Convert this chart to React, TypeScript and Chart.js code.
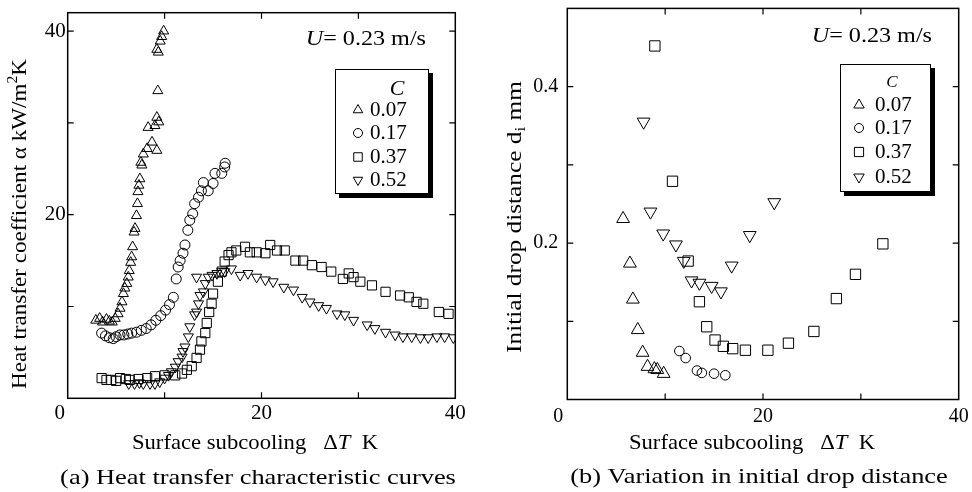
import React, { useEffect, useRef } from 'react';
import { Chart, registerables } from 'chart.js';

Chart.register(...registerables);

const SERIF = '"Liberation Serif", "DejaVu Serif", serif';

// ---------- shared axis ticks ----------
const SERIES_LABELS = ['0.07', '0.17', '0.37', '0.52'];
const X_TICKS = [0, 10, 20, 30, 40];
const X_TICK_LABELS = ['0', '', '20', '', '40'];
const A_Y_TICKS = [0, 10, 20, 30, 40];
const A_Y_TICK_LABELS = ['', '', '20', '', '40'];
const B_Y_TICKS = [0, 0.1, 0.2, 0.3, 0.4];
const B_Y_TICK_LABELS = ['', '', '0.2', '', '0.4'];

// ---------- (a) heat transfer coefficient ----------
const A_C007_X = [2.9, 3.3, 3.6, 4.0, 4.3, 4.6, 4.9, 5.2, 5.4, 5.6, 5.75, 5.9, 6.1, 6.25, 6.35, 6.5, 6.6, 6.7, 6.85, 6.95, 7.1, 7.2, 7.25, 7.35, 7.45, 7.55, 7.65, 7.8, 8.2, 8.7, 9.2, 8.3, 9.0, 9.4, 9.2, 9.3, 9.2, 9.35, 9.55, 9.7, 9.9];
const A_C007_Y = [8.5, 8.7, 8.3, 8.6, 8.4, 8.3, 8.7, 9.2, 9.8, 10.5, 11.4, 12.0, 12.5, 13.2, 13.9, 14.8, 15.4, 16.5, 18.1, 18.5, 19.9, 21.2, 22.5, 23.2, 23.9, 25.7, 25.4, 26.6, 27.2, 27.9, 27.0, 29.5, 29.7, 30.1, 30.6, 33.5, 38.0, 37.7, 38.9, 39.4, 40.0];

const A_C017_X = [3.5, 3.9, 4.3, 4.7, 5.0, 5.4, 5.8, 6.2, 6.6, 7.1, 7.6, 8.1, 8.6, 9.1, 9.6, 10.1, 10.5, 10.9, 11.2, 11.4, 11.6, 11.9, 12.1, 12.4, 12.6, 12.9, 13.1, 13.5, 13.8, 14.0, 14.5, 15.0, 15.2, 15.9, 16.2, 16.25];
const A_C017_Y = [7.1, 6.8, 6.6, 6.5, 6.7, 6.9, 6.9, 7.0, 7.1, 7.2, 7.4, 7.6, 8.0, 8.5, 9.0, 9.6, 10.2, 11.0, 13.0, 14.3, 15.0, 15.8, 16.7, 18.3, 19.4, 20.1, 21.2, 21.9, 22.6, 23.5, 22.6, 23.4, 24.5, 24.5, 25.2, 25.6];

const A_C037_X = [3.5, 4.0, 4.5, 5.0, 5.4, 6.0, 6.4, 7.3, 8.2, 9.0, 10.0, 11.1, 11.8, 12.3, 12.8, 13.3, 13.65, 13.8, 14.2, 14.35, 14.6, 14.85, 15.0, 15.5, 15.9, 16.2, 16.6, 16.9, 17.4, 18.3, 18.8, 19.5, 20.4, 20.9, 21.6, 22.4, 23.5, 24.3, 25.2, 26.2, 27.2, 28.4, 29.0, 29.5, 30.2, 31.4, 32.8, 34.3, 35.2, 36.0, 36.7, 38.3, 39.3];
const A_C037_Y = [2.2, 2.0, 2.0, 1.9, 2.2, 2.1, 2.0, 2.1, 2.2, 2.4, 2.5, 2.5, 2.7, 3.1, 3.5, 4.4, 5.3, 6.2, 7.1, 8.2, 9.4, 10.3, 11.4, 12.7, 13.8, 14.9, 15.6, 15.9, 16.1, 16.5, 15.9, 15.9, 15.8, 16.7, 16.1, 16.1, 15.0, 15.0, 14.5, 14.3, 13.8, 13.0, 13.6, 13.2, 12.7, 12.3, 11.6, 11.2, 11.0, 10.5, 10.3, 9.4, 9.2];

const A_C052_X = [6.3, 6.9, 7.4, 7.8, 8.5, 9.0, 9.5, 10.0, 10.4, 10.7, 11.1, 11.4, 11.8, 11.9, 12.1, 12.45, 12.6, 13.1, 13.3, 13.5, 13.65, 14.0, 14.2, 13.3, 14.5, 14.9, 15.4, 15.9, 16.2, 16.9, 17.8, 18.6, 19.5, 20.4, 21.2, 22.3, 23.3, 24.2, 25.0, 25.9, 26.7, 27.8, 28.6, 29.5, 30.9, 31.7, 32.8, 33.8, 34.6, 35.5, 36.4, 37.2, 38.1, 38.9, 39.8];
const A_C052_Y = [1.6, 1.6, 1.7, 1.6, 1.6, 1.6, 1.8, 2.2, 2.5, 2.9, 3.4, 4.0, 4.5, 5.1, 5.6, 6.7, 7.8, 9.1, 9.4, 10.3, 11.2, 11.6, 12.5, 13.2, 13.2, 13.4, 13.6, 13.8, 13.8, 14.1, 13.4, 13.6, 13.2, 12.9, 12.7, 12.1, 11.8, 11.0, 10.5, 10.1, 9.8, 9.2, 9.1, 8.5, 8.0, 7.6, 7.2, 6.9, 6.7, 6.7, 6.6, 6.6, 6.7, 6.7, 6.6];

// ---------- (b) initial drop distance ----------
const B_C007_X = [5.7, 6.4, 6.7, 7.2, 7.7, 8.2, 8.9, 9.2, 9.85];
const B_C007_Y = [0.231, 0.174, 0.128, 0.089, 0.060, 0.042, 0.039, 0.038, 0.033];
const B_C017_X = [11.45, 12.1, 13.25, 13.75, 15.0, 16.15];
const B_C017_Y = [0.062, 0.053, 0.037, 0.034, 0.033, 0.031];
const B_C037_X = [8.95, 10.75, 12.35, 13.5, 14.25, 15.1, 15.95, 16.9, 18.2, 20.5, 22.6, 25.2, 27.5, 29.45, 32.25];
const B_C037_Y = [0.452, 0.279, 0.177, 0.125, 0.093, 0.076, 0.068, 0.065, 0.063, 0.063, 0.072, 0.087, 0.129, 0.160, 0.199];
const B_C052_X = [7.8, 8.5, 9.8, 11.1, 11.9, 12.7, 13.5, 14.75, 15.7, 16.8, 18.65, 21.15];
const B_C052_Y = [0.355, 0.240, 0.212, 0.198, 0.177, 0.152, 0.149, 0.145, 0.138, 0.171, 0.210, 0.252];

// ---------- text helpers ----------
type Run = { t: string; it?: boolean; sub?: boolean; sup?: boolean };

function drawRuns(ctx: CanvasRenderingContext2D, runs: Run[], size: number, sx: number, x: number, y: number, align: string) {
  const parts = runs.map((r) => {
    const fs = r.sub || r.sup ? size * 0.68 : size;
    const font = `${r.it ? 'italic ' : ''}${fs}px ${SERIF}`;
    ctx.font = font;
    return { r, font, w: ctx.measureText(r.t).width, dy: r.sub ? size * 0.28 : r.sup ? -size * 0.3 : 0 };
  });
  const total = parts.reduce((a, p) => a + p.w, 0) * sx;
  const start = align === 'center' ? x - total / 2 : align === 'right' ? x - total : x;
  ctx.save();
  ctx.translate(start, y);
  ctx.scale(sx, 1);
  ctx.textBaseline = 'middle';
  ctx.textAlign = 'left';
  ctx.fillStyle = '#000';
  let cx = 0;
  for (const p of parts) {
    ctx.font = p.font;
    ctx.fillText(p.r.t, cx, p.dy);
    cx += p.w;
  }
  ctx.restore();
}

function drawMarker(ctx: CanvasRenderingContext2D, style: string, rot: number, x: number, y: number, r: number) {
  ctx.beginPath();
  if (style === 'circle') {
    ctx.arc(x, y, r, 0, Math.PI * 2);
  } else if (style === 'rect') {
    const s = r * Math.SQRT1_2;
    ctx.rect(x - s, y - s, 2 * s, 2 * s);
  } else {
    const d = rot ? -1 : 1;
    for (let k = 0; k < 3; k++) {
      const a = (k * 2 * Math.PI) / 3;
      const px = x + Math.sin(a) * r;
      const py = y - d * Math.cos(a) * r;
      if (k === 0) ctx.moveTo(px, py);
      else ctx.lineTo(px, py);
    }
    ctx.closePath();
  }
  ctx.stroke();
}

const decorPlugin = {
  id: 'decor',
  afterDatasetsDraw(chart: any, _args: any, o: any) {
    const ctx: CanvasRenderingContext2D = chart.ctx;
    const { left, right, top, bottom } = chart.chartArea;
    const xs = chart.scales.x;
    const ys = chart.scales.y;
    ctx.save();
    ctx.strokeStyle = '#000';
    ctx.fillStyle = '#000';
    // frame
    ctx.lineWidth = o.frameWidth;
    ctx.strokeRect(left, top, right - left, bottom - top);
    // inward ticks on all four sides
    ctx.lineWidth = 1.2;
    ctx.beginPath();
    for (const t of xs.ticks) {
      const p = xs.getPixelForValue(t.value);
      if (p - left < 1 || right - p < 1) continue;
      ctx.moveTo(p, bottom); ctx.lineTo(p, bottom - o.tickLen);
      ctx.moveTo(p, top); ctx.lineTo(p, top + o.tickLen);
    }
    for (const t of ys.ticks) {
      const p = ys.getPixelForValue(t.value);
      if (bottom - p < 1 || p - top < 1) continue;
      ctx.moveTo(left, p); ctx.lineTo(left + o.tickLen, p);
      ctx.moveTo(right, p); ctx.lineTo(right - o.tickLen, p);
    }
    ctx.stroke();
    // origin label (shared 0 at the corner)
    drawRuns(ctx, [{ t: X_TICK_LABELS[0] }], o.tickSize, 1, xs.getPixelForValue(X_TICKS[0]) - o.originDX, bottom + o.originDY, 'center');
    // x title
    drawRuns(ctx, o.xTitle, o.titleSize, o.xTitleSx, o.xTitleX, o.xTitleY, 'center');
    // y title
    ctx.save();
    ctx.translate(o.yTitleX, o.yTitleY);
    ctx.rotate(-Math.PI / 2);
    drawRuns(ctx, o.yTitle, o.titleSize, o.yTitleSx, 0, 0, 'center');
    ctx.restore();
    // caption
    drawRuns(ctx, o.caption, o.captionSize, o.captionSx, o.captionX, o.captionY, 'center');
    // velocity note
    drawRuns(ctx, o.note, o.noteSize, o.noteSx, o.noteX, o.noteY, 'right');
    // legend box with shadow
    const L = o.legend;
    ctx.fillStyle = '#000';
    ctx.fillRect(L.x + L.shadow, L.y + L.shadow, L.w, L.h);
    ctx.fillStyle = '#fff';
    ctx.fillRect(L.x, L.y, L.w, L.h);
    ctx.lineWidth = 1;
    ctx.strokeRect(L.x + 0.5, L.y + 0.5, L.w - 1, L.h - 1);
    drawRuns(ctx, [{ t: 'C', it: true }], L.titleSize, 1, L.x + L.titleDX, L.y + L.titleDY, 'center');
    chart.data.datasets.forEach((ds: any, i: number) => {
      const y = L.y + L.rowY[i];
      ctx.lineWidth = 1;
      ctx.strokeStyle = '#000';
      drawMarker(ctx, ds.pointStyle, ds.pointRotation, L.x + L.markerDX, y, L.markerR[i]);
      drawRuns(ctx, [{ t: ds.label }], L.textSize, 1, L.x + L.textDX, y, 'left');
    });
    ctx.restore();
  },
};

function series(xs: number[], ys: number[]) {
  return xs.map((x, i) => ({ x, y: ys[i] }));
}

const STYLES = [
  { style: 'triangle', rot: 0 },
  { style: 'circle', rot: 0 },
  { style: 'rect', rot: 0 },
  { style: 'triangle', rot: 180 },
];

const SPEC_A = {
  data: [series(A_C007_X, A_C007_Y), series(A_C017_X, A_C017_Y), series(A_C037_X, A_C037_Y), series(A_C052_X, A_C052_Y)],
  radii: [5.8, 5, 6.5, 5.8],
  yMax: 42,
  yTicks: A_Y_TICKS,
  yLabels: A_Y_TICK_LABELS,
  padding: { top: 12.7, right: 30.7, bottom: 0, left: 0 },
  yAxisW: 67.7,
  xAxisH: 93.7,
  tickSize: 21,
  xTickPad: 3,
  yTickPad: 2,
  decor: {
    frameWidth: 1.5, tickLen: 6, tickSize: 21, originDX: 8, originDY: 15,
    xTitleSx: 1.03, yTitleSx: 1.05, captionSx: 1.2, noteSx: 1.15,
    titleSize: 22, captionSize: 22, noteSize: 21,
    xTitle: [{ t: 'Surface subcooling   Δ' }, { t: 'T', it: true }, { t: '  K' }],
    xTitleX: 255, xTitleY: 443,
    yTitle: [{ t: 'Heat transfer coefficient α kW/m' }, { t: '2', sup: true }, { t: 'K' }],
    yTitleX: 20, yTitleY: 224,
    caption: [{ t: '(a) Heat transfer characteristic curves' }],
    captionX: 258, captionY: 478,
    note: [{ t: 'U', it: true }, { t: '= 0.23 m/s' }],
    noteX: 426, noteY: 39,
    legend: { x: 335, y: 69, w: 94, h: 125, shadow: 4, titleSize: 22, titleDX: 62, titleDY: 20, rowY: [41, 64, 88, 111], markerDX: 23, textDX: 35, textSize: 21, markerR: [5.5, 4.5, 6, 5.5] },
  },
};

const SPEC_B = {
  data: [series(B_C007_X, B_C007_Y), series(B_C017_X, B_C017_Y), series(B_C037_X, B_C037_Y), series(B_C052_X, B_C052_Y)],
  radii: [7.4, 4.8, 7.3, 7.4],
  yMax: 0.5,
  yTicks: B_Y_TICKS,
  yLabels: B_Y_TICK_LABELS,
  padding: { top: 7, right: 13.3, bottom: 0, left: 0 },
  yAxisW: 81.3,
  xAxisH: 92.5,
  tickSize: 20,
  xTickPad: 5,
  yTickPad: 9,
  decor: {
    frameWidth: 1.5, tickLen: 6, tickSize: 20, originDX: 9, originDY: 17,
    xTitleSx: 1.03, yTitleSx: 1.15, captionSx: 1.2, noteSx: 1.15,
    titleSize: 22, captionSize: 22, noteSize: 21,
    xTitle: [{ t: 'Surface subcooling   Δ' }, { t: 'T', it: true }, { t: '  K' }],
    xTitleX: 266, xTitleY: 443,
    yTitle: [{ t: 'Initial drop distance d' }, { t: 'i', sub: true }, { t: ' mm' }],
    yTitleX: 29, yTitleY: 217,
    caption: [{ t: '(b) Variation in initial drop distance' }],
    captionX: 273, captionY: 477,
    note: [{ t: 'U', it: true }, { t: '= 0.23 m/s' }],
    noteX: 446, noteY: 36,
    legend: { x: 354, y: 64, w: 91, h: 128, shadow: 4, titleSize: 17, titleDX: 52, titleDY: 19, rowY: [41, 64, 88, 113], markerDX: 19, textDX: 35, textSize: 21, markerR: [6, 4.5, 6.5, 6] },
  },
};

function makeConfig(p: any) {
  return {
    type: 'scatter',
    data: {
      datasets: p.data.map((d: any, i: number) => ({
        label: SERIES_LABELS[i],
        data: d,
        pointStyle: STYLES[i].style,
        pointRotation: STYLES[i].rot,
        pointRadius: p.radii[i],
        pointHoverRadius: p.radii[i],
        pointBorderColor: '#000',
        pointBackgroundColor: 'rgba(0,0,0,0)',
        pointBorderWidth: 1,
        showLine: false,
      })),
    },
    options: {
      responsive: false,
      maintainAspectRatio: false,
      animation: false,
      devicePixelRatio: 1,
      events: [],
      layout: { padding: p.padding },
      plugins: {
        legend: { display: false },
        tooltip: { enabled: false },
        title: { display: false },
        decor: p.decor,
      },
      scales: {
        x: {
          type: 'linear',
          min: X_TICKS[0],
          max: X_TICKS[X_TICKS.length - 1],
          grid: { display: false, drawTicks: false },
          border: { display: false },
          afterBuildTicks: (s: any) => { s.ticks = X_TICKS.map((v) => ({ value: v })); },
          ticks: {
            autoSkip: false, maxRotation: 0, color: '#000', padding: p.xTickPad,
            font: { family: SERIF, size: p.tickSize },
            callback: (_v: any, i: number) => (i === 0 ? '' : X_TICK_LABELS[i]),
          },
          afterFit: (s: any) => { s.height = p.xAxisH; s.paddingLeft = 0; s.paddingRight = 0; s.paddingTop = 0; s.paddingBottom = 0; },
        },
        y: {
          type: 'linear',
          min: 0,
          max: p.yMax,
          grid: { display: false, drawTicks: false },
          border: { display: false },
          afterBuildTicks: (s: any) => { s.ticks = p.yTicks.map((v: number) => ({ value: v })); },
          ticks: {
            autoSkip: false, color: '#000', padding: p.yTickPad,
            font: { family: SERIF, size: p.tickSize },
            callback: (_v: any, i: number) => p.yLabels[i],
          },
          afterFit: (s: any) => { s.width = p.yAxisW; s.paddingLeft = 0; s.paddingRight = 0; s.paddingTop = 0; s.paddingBottom = 0; },
        },
      },
    },
    plugins: [decorPlugin],
  };
}

function Panel({ spec, left }: { spec: any; left: number }) {
  const ref = useRef<HTMLCanvasElement>(null);
  useEffect(() => {
    const chart = new Chart(ref.current as HTMLCanvasElement, makeConfig(spec) as any);
    return () => chart.destroy();
  }, [spec]);
  return (
    <canvas
      ref={ref}
      width={486}
      height={492}
      style={{ position: 'absolute', left, top: 0, width: 486, height: 492 }}
    />
  );
}

export default function App() {
  return (
    <div style={{ position: 'fixed', left: 0, top: 0, width: 972, height: 492, background: '#fff', overflow: 'hidden' }}>
      <Panel spec={SPEC_A} left={0} />
      <Panel spec={SPEC_B} left={486} />
    </div>
  );
}
